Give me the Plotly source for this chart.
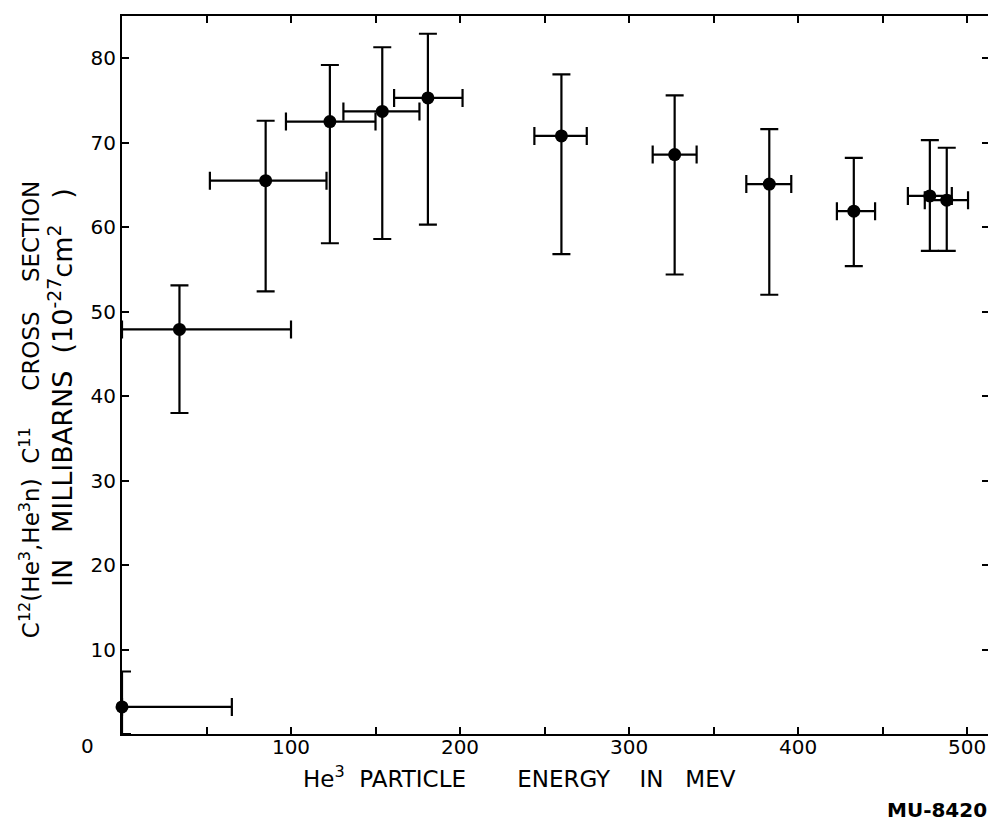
import plotly.graph_objects as go

# Data
energy = [0, 34, 85, 123, 154, 181, 260, 327, 383, 433, 478, 488]
cross_section = [3.2, 47.9, 65.5, 72.5, 73.7, 75.3, 70.8, 68.6, 65.1, 61.9, 63.7, 63.2]
err_y_plus = [4.2, 5.2, 7.1, 6.7, 7.6, 7.6, 7.3, 7.0, 6.5, 6.3, 6.6, 6.2]
err_y_minus = [3.2, 9.9, 13.1, 14.4, 15.1, 15.0, 14.0, 14.2, 13.1, 6.5, 6.5, 6.0]
err_x_plus = [65, 66, 36, 27, 22, 20.5, 15, 13, 13, 12.6, 13, 12.6]
err_x_minus = [0, 34, 33, 26, 23, 20, 16, 13, 13.6, 10, 13, 13]

x_tickvals = [0, 50, 100, 150, 200, 250, 300, 350, 400, 450, 500]
x_ticktext = ["", "", "100", "", "200", "", "300", "", "400", "", "500"]
y_tickvals = [0, 10, 20, 30, 40, 50, 60, 70, 80]
y_ticktext = ["", "10", "20", "30", "40", "50", "60", "70", "80"]

NB = "\u00a0"
FONT = "DejaVu Sans"

fig = go.Figure()
fig.add_trace(go.Scatter(
    x=energy, y=cross_section, mode="markers",
    marker=dict(color="black", size=13),
    error_y=dict(type="data", symmetric=False, array=err_y_plus, arrayminus=err_y_minus,
                 color="black", thickness=2.2, width=9),
    error_x=dict(type="data", symmetric=False, array=err_x_plus, arrayminus=err_x_minus,
                 color="black", thickness=2.2, width=9),
    cliponaxis=False, showlegend=False,
))

x_title = ("He<sup>3</sup>" + NB * 2 + "PARTICLE" + NB * 7 + "ENERGY" + NB * 4 + "IN"
           + NB * 3 + "MEV")
y_title_1 = ("C<sup>12</sup>(He<sup>3</sup>,He<sup>3</sup>n)" + NB * 2 + "C<sup>11</sup>" + NB * 5
             + "CROSS" + NB * 4 + "SECTION")
y_title_2 = ("IN" + NB * 3 + "MILLIBARNS" + NB * 2 + "(10<sup>-27</sup>cm<sup>2</sup>" + NB * 3 + ")")

# the page adds an 8px body margin; the figure is sized to fill the rest of the window
fig.update_layout(
    width=988, height=822,
    margin=dict(l=114, r=5, t=8, b=96),
    paper_bgcolor="white", plot_bgcolor="white",
    font=dict(family=FONT, color="black", size=20),
    xaxis=dict(
        range=[0, 513], tickvals=x_tickvals, ticktext=x_ticktext,
        ticks="inside", ticklen=7, tickwidth=2, tickcolor="black",
        showline=True, linewidth=2, linecolor="black", mirror="ticks",
        showgrid=False, zeroline=False,
        tickfont=dict(size=20), ticklabelstandoff=-6,
    ),
    yaxis=dict(
        range=[0, 85], tickvals=y_tickvals, ticktext=y_ticktext,
        ticks="inside", ticklen=7, tickwidth=2, tickcolor="black",
        showline=True, linewidth=2, linecolor="black", mirror="ticks",
        showgrid=False, zeroline=False,
        tickfont=dict(size=20), ticklabelstandoff=0,
    ),
    annotations=[
        dict(text=x_title, xref="paper", yref="paper", x=0.458, y=-0.060,
             xanchor="center", yanchor="middle", showarrow=False, font=dict(size=23)),
        dict(text=y_title_1, xref="paper", yref="paper", x=0, y=0.451, xshift=-92,
             xanchor="center", yanchor="middle", textangle=-90, showarrow=False,
             font=dict(size=23)),
        dict(text=y_title_2, xref="paper", yref="paper", x=0, y=0.482, xshift=-61,
             xanchor="center", yanchor="middle", textangle=-90, showarrow=False,
             font=dict(size=27)),
        dict(text="0", xref="paper", yref="y", x=0, y=0, xanchor="right", yanchor="middle",
             xshift=-26, yshift=-12, showarrow=False, font=dict(size=20)),
        dict(text="<b>MU-8420</b>", xref="paper", yref="paper", x=1, y=-0.106,
             xanchor="right", yanchor="middle", showarrow=False, font=dict(size=20)),
    ],
)

fig.write_html("out.html")
